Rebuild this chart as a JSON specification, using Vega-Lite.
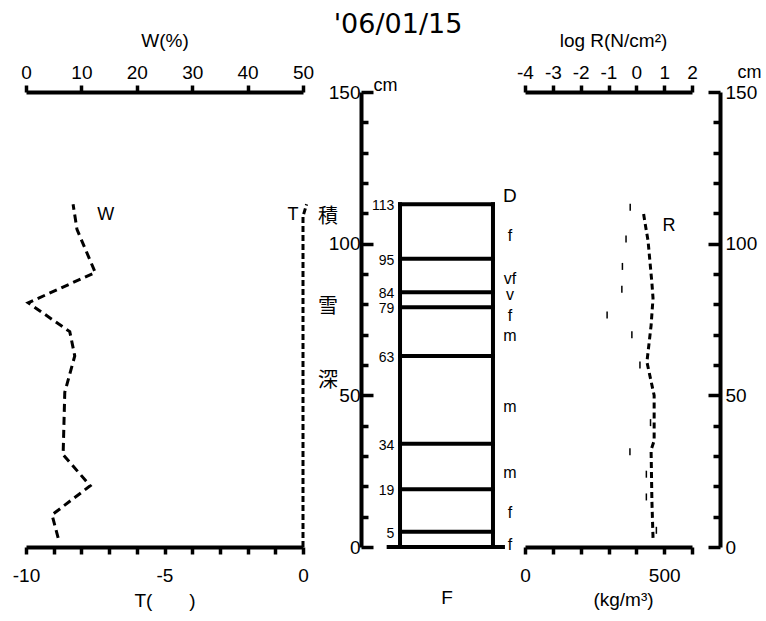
{
  "$schema": "https://vega.github.io/schema/vega-lite/v6.json",
  "width": 766,
  "height": 455,
  "autosize": "none",
  "padding": {"left": 0, "top": 92, "right": 0, "bottom": 74},
  "background": "white",
  "title": {"text": "'06/01/15", "font": "DejaVu Sans", "fontSize": 27, "fontWeight": "normal", "color": "black", "anchor": "middle", "frame": "group", "dx": 15, "offset": -8},
  "config": {
    "view": {"stroke": null},
    "font": "Liberation Sans",
    "axis": {
      "domainColor": "black", "tickColor": "black", "labelColor": "black", "titleColor": "black",
      "domainWidth": 4, "tickWidth": 3.5, "labelFont": "Liberation Sans", "titleFont": "Liberation Sans",
      "labelFontSize": 19, "titleFontSize": 19, "titleFontWeight": "normal", "grid": false,
      "labelFlush": false, "labelOverlap": false, "labelBound": false
    },
    "text": {"font": "Liberation Sans", "color": "black"}
  },
  "datasets": {
    "W": [
      {"h": 113, "W": 8.5}, {"h": 104.7, "W": 9.2}, {"h": 90.5, "W": 12.5}, {"h": 80.5, "W": 0.4},
      {"h": 71, "W": 7.9}, {"h": 63, "W": 8.8}, {"h": 51, "W": 7.0}, {"h": 30.4, "W": 6.7},
      {"h": 20.2, "W": 11.6}, {"h": 10.6, "W": 4.7}, {"h": 3, "W": 5.8}
    ],
    "T": [{"h": 113, "T": 0.13}, {"h": 109, "T": 0}, {"h": 0, "T": 0}],
    "layers": [{"h": 113}, {"h": 95}, {"h": 84}, {"h": 79}, {"h": 63}, {"h": 34}, {"h": 19}, {"h": 5}],
    "grains": [
      {"g": "D", "h": 115.8}, {"g": "f", "h": 102.4}, {"g": "vf", "h": 88.2}, {"g": "v", "h": 83.2},
      {"g": "f", "h": 76}, {"g": "m", "h": 69.4}, {"g": "m", "h": 46.3}, {"g": "m", "h": 24.4},
      {"g": "f", "h": 11.2}, {"g": "f", "h": 0.7}
    ],
    "chars": [{"c": "積", "h": 108.7}, {"c": "雪", "h": 79}, {"c": "深", "h": 54.8}],
    "R": [
      {"h": 111, "logR": 0.24}, {"h": 107, "logR": 0.31}, {"h": 101, "logR": 0.42}, {"h": 87, "logR": 0.56},
      {"h": 82, "logR": 0.60}, {"h": 73, "logR": 0.53}, {"h": 61, "logR": 0.38}, {"h": 50, "logR": 0.64},
      {"h": 35, "logR": 0.64}, {"h": 32, "logR": 0.53}, {"h": 15, "logR": 0.56}, {"h": 3, "logR": 0.60}
    ],
    "rho": [
      {"h": 112, "rho": 378}, {"h": 101.5, "rho": 363}, {"h": 92.5, "rho": 350}, {"h": 85, "rho": 348},
      {"h": 76.5, "rho": 295}, {"h": 70, "rho": 384}, {"h": 60, "rho": 413}, {"h": 41, "rho": 451},
      {"h": 31.4, "rho": 377}, {"h": 24, "rho": 436}, {"h": 16.5, "rho": 436}, {"h": 5.5, "rho": 472}
    ]
  },
  "layer": [
    {
      "layer": [
        {
          "data": {"name": "W"},
          "mark": {"type": "line", "stroke": "black", "strokeWidth": 3, "strokeDash": [8, 5]},
          "encoding": {
            "x": {"field": "W", "type": "quantitative", "scale": {"domain": [0, 50], "range": [26, 303], "nice": false, "zero": false},
                  "axis": {"orient": "top", "values": [0, 10, 20, 30, 40, 50], "labelExpr": "'' + datum.value", "tickSize": 7, "labelPadding": 3, "title": "W(%)", "titlePadding": 13}},
            "y": {"field": "h", "type": "quantitative", "scale": {"domain": [0, 150], "nice": false, "zero": false}, "axis": null},
            "order": {"field": "h"}
          }
        },
        {
          "data": {"values": [{"W": 14.4, "h": 109.5, "lab": "W"}]},
          "mark": {"type": "text", "fontSize": 18, "align": "center", "baseline": "middle"},
          "encoding": {
            "x": {"field": "W", "type": "quantitative"},
            "y": {"field": "h", "type": "quantitative", "scale": {"domain": [0, 150]}, "axis": null},
            "text": {"field": "lab"}
          }
        }
      ]
    },
    {
      "layer": [
        {
          "data": {"name": "T"},
          "mark": {"type": "line", "stroke": "black", "strokeWidth": 3, "strokeDash": [6, 3]},
          "encoding": {
            "x": {"field": "T", "type": "quantitative", "scale": {"domain": [-10, 0], "range": [26, 303], "nice": false, "zero": false},
                  "axis": {"orient": "bottom", "values": [-10, -9, -8, -7, -6, -5, -4, -3, -2, -1, 0], "labelExpr": "datum.value % 5 === 0 ? '' + datum.value : ''", "tickSize": 7, "labelPadding": 12, "title": "T(\u00a0\u00a0\u00a0\u00a0\u00a0\u00a0\u00a0)", "titlePadding": 6}},
            "y": {"field": "h", "type": "quantitative", "scale": {"domain": [0, 150]}, "axis": null},
            "order": {"field": "h"}
          }
        },
        {
          "data": {"values": [{"T": -0.36, "h": 109.4, "lab": "T"}]},
          "mark": {"type": "text", "fontSize": 18, "align": "center", "baseline": "middle"},
          "encoding": {
            "x": {"field": "T", "type": "quantitative"},
            "y": {"field": "h", "type": "quantitative", "scale": {"domain": [0, 150]}, "axis": null},
            "text": {"field": "lab"}
          }
        }
      ]
    },
    {
      "data": {"name": "layers"},
      "mark": {"type": "rule", "stroke": "black", "strokeWidth": 4, "strokeCap": "square"},
      "encoding": {
        "x": {"datum": 1, "type": "quantitative", "scale": {"domain": [0, 10], "range": [388.4, 504.6], "nice": false, "zero": false},
              "axis": {"orient": "bottom", "domain": false, "ticks": false, "labels": false, "title": "F", "titlePadding": 41}},
        "x2": {"datum": 9},
        "y": {"field": "h", "type": "quantitative", "scale": {"domain": [0, 150]},
              "axis": {"orient": "left", "offset": -361, "values": [0, 10, 20, 30, 40, 50, 60, 70, 80, 90, 100, 110, 120, 130, 140, 150],
                       "labelExpr": "datum.value % 50 === 0 ? '' + datum.value : ''",
                       "tickSize": {"condition": {"test": "datum.value % 50 === 0", "value": -12}, "value": -7},
                       "labelPadding": 13, "title": "cm", "titleAngle": 0, "titleAlign": "left", "titleBaseline": "alphabetic", "titleX": 12, "titleY": -2, "titleFontSize": 18}}
      }
    },
    {
      "data": {"values": [{}]},
      "mark": {"type": "rule", "stroke": "black", "strokeWidth": 4, "strokeCap": "square"},
      "encoding": {
        "x": {"datum": 1, "type": "quantitative", "scale": {"domain": [0, 10], "range": [388.4, 504.6], "nice": false, "zero": false}, "axis": null},
        "y": {"datum": 0, "type": "quantitative", "scale": {"domain": [0, 150]}, "axis": null},
        "y2": {"datum": 113}
      }
    },
    {
      "data": {"values": [{}]},
      "mark": {"type": "rule", "stroke": "black", "strokeWidth": 4, "strokeCap": "square"},
      "encoding": {
        "x": {"datum": 9, "type": "quantitative", "scale": {"domain": [0, 10], "range": [388.4, 504.6], "nice": false, "zero": false}, "axis": null},
        "y": {"datum": 0, "type": "quantitative", "scale": {"domain": [0, 150]}, "axis": null},
        "y2": {"datum": 113}
      }
    },
    {
      "data": {"values": [{}]},
      "mark": {"type": "rule", "stroke": "black", "strokeWidth": 4},
      "encoding": {
        "x": {"datum": -0.15, "type": "quantitative", "scale": {"domain": [0, 10], "range": [388.4, 504.6], "nice": false, "zero": false}, "axis": null},
        "x2": {"datum": 10.03},
        "y": {"datum": 0, "type": "quantitative", "scale": {"domain": [0, 150]}, "axis": null}
      }
    },
    {
      "data": {"name": "layers"},
      "mark": {"type": "text", "fontSize": 14, "align": "right", "baseline": "middle", "dy": 2},
      "encoding": {
        "x": {"datum": 0.5, "type": "quantitative", "scale": {"domain": [0, 10], "range": [388.4, 504.6], "nice": false, "zero": false}, "axis": null},
        "y": {"field": "h", "type": "quantitative", "scale": {"domain": [0, 150]}, "axis": null},
        "text": {"field": "h"}
      }
    },
    {
      "data": {"name": "grains"},
      "mark": {"type": "text", "align": "center", "baseline": "middle"},
      "encoding": {
        "x": {"datum": 10.46, "type": "quantitative", "scale": {"domain": [0, 10], "range": [388.4, 504.6], "nice": false, "zero": false}, "axis": null},
        "y": {"field": "h", "type": "quantitative", "scale": {"domain": [0, 150]}, "axis": null},
        "text": {"field": "g"},
        "size": {"condition": {"test": "datum.g === 'D'", "value": 19}, "value": 16}
      }
    },
    {
      "data": {"name": "chars"},
      "mark": {"type": "text", "font": "Noto Sans CJK JP", "fontSize": 20, "align": "center", "baseline": "middle"},
      "encoding": {
        "x": {"datum": -5.2, "type": "quantitative", "scale": {"domain": [0, 10], "range": [388.4, 504.6], "nice": false, "zero": false}, "axis": null},
        "y": {"field": "h", "type": "quantitative", "scale": {"domain": [0, 150]}, "axis": null},
        "text": {"field": "c"}
      }
    },
    {
      "layer": [
        {
          "data": {"name": "R"},
          "mark": {"type": "line", "stroke": "black", "strokeWidth": 3, "strokeDash": [6, 4]},
          "encoding": {
            "x": {"field": "logR", "type": "quantitative", "scale": {"domain": [-4, 2], "range": [525, 692], "nice": false, "zero": false},
                  "axis": {"orient": "top", "values": [-4, -3, -2, -1, 0, 1, 2], "labelExpr": "'' + datum.value", "tickSize": 7, "labelPadding": 3, "title": "log R(N/cm²)", "titlePadding": 13, "titleX": 613}},
            "y": {"field": "h", "type": "quantitative", "scale": {"domain": [0, 150]}, "axis": null},
            "order": {"field": "h"}
          }
        },
        {
          "data": {"values": [{"logR": 1.17, "h": 105.9, "lab": "R"}]},
          "mark": {"type": "text", "fontSize": 18, "align": "center", "baseline": "middle"},
          "encoding": {
            "x": {"field": "logR", "type": "quantitative"},
            "y": {"field": "h", "type": "quantitative", "scale": {"domain": [0, 150]}, "axis": null},
            "text": {"field": "lab"}
          }
        }
      ]
    },
    {
      "data": {"name": "rho"},
      "mark": {"type": "tick", "orient": "vertical", "size": 7, "thickness": 1.5, "color": "black", "opacity": 1},
      "encoding": {
        "x": {"field": "rho", "type": "quantitative", "scale": {"domain": [0, 600], "range": [525, 692], "nice": false, "zero": false},
              "axis": {"orient": "bottom", "values": [0, 100, 200, 300, 400, 500, 600], "labelExpr": "datum.value === 0 || datum.value === 500 ? '' + datum.value : ''", "tickSize": 7, "labelPadding": 12, "title": "(kg/m³)", "titlePadding": 5, "titleX": 623}},
        "y": {"field": "h", "type": "quantitative", "scale": {"domain": [0, 150]},
              "axis": {"orient": "right", "offset": -46, "values": [0, 10, 20, 30, 40, 50, 60, 70, 80, 90, 100, 110, 120, 130, 140, 150],
                       "labelExpr": "datum.value % 50 === 0 ? '' + datum.value : ''",
                       "tickSize": {"condition": {"test": "datum.value % 50 === 0", "value": -12}, "value": -7},
                       "labelPadding": 17, "title": "cm", "titleAngle": 0, "titleAlign": "left", "titleBaseline": "alphabetic", "titleX": 17, "titleY": -15, "titleFontSize": 18}}
      }
    }
  ],
  "resolve": {"scale": {"x": "independent"}, "axis": {"x": "independent", "y": "independent"}}
}
